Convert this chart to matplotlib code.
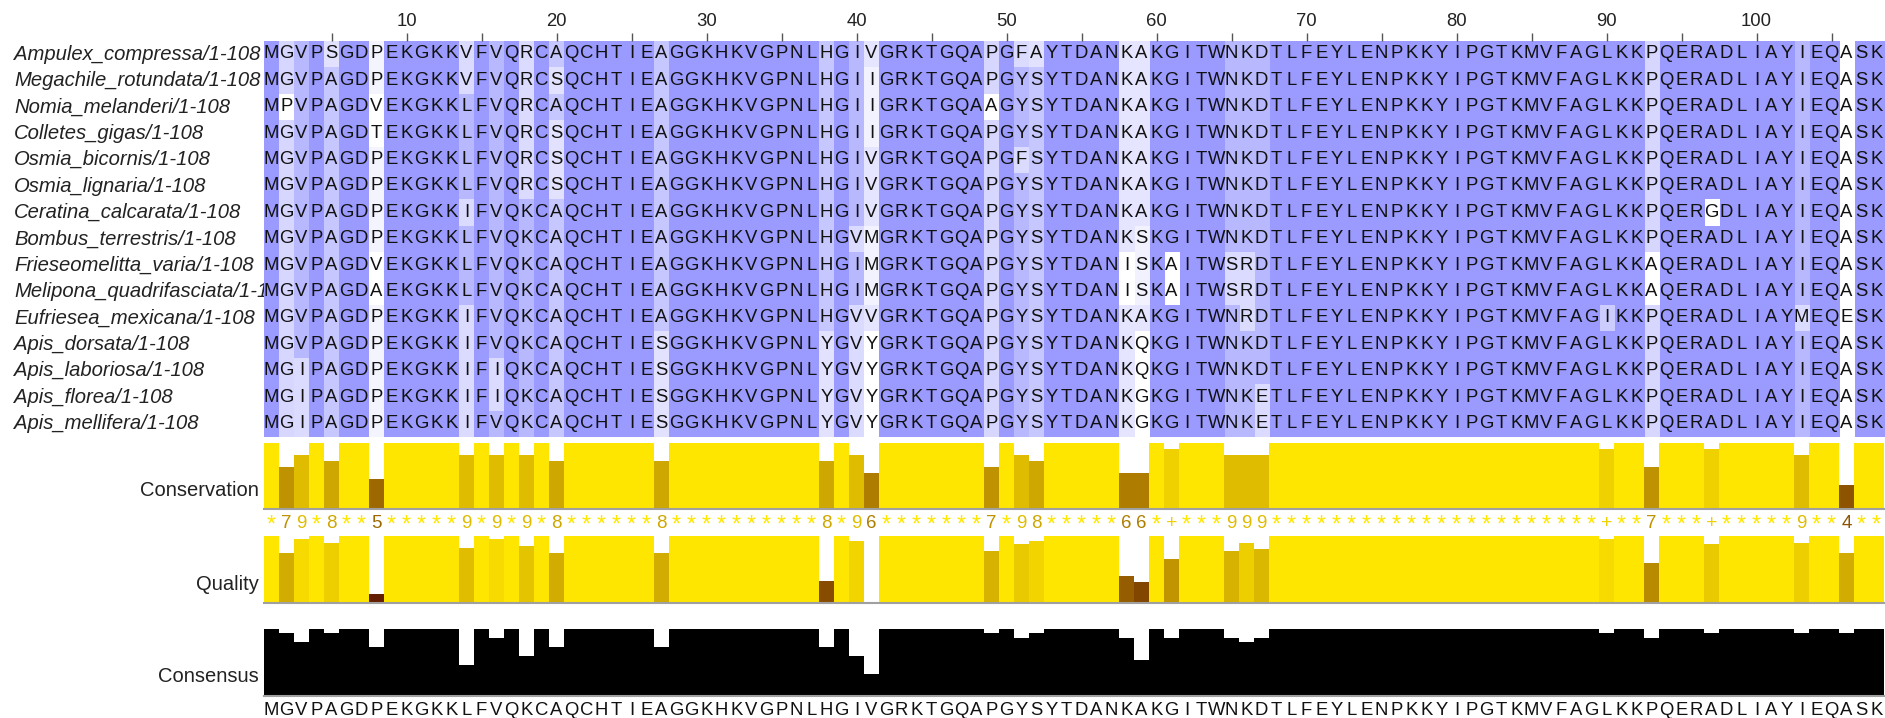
import matplotlib
matplotlib.use("Agg")
import matplotlib.pyplot as plt
from matplotlib import transforms
from collections import Counter
import numpy as np

# ---------------- data ----------------
names = [
    "Ampulex_compressa/1-108", "Megachile_rotundata/1-108", "Nomia_melanderi/1-108",
    "Colletes_gigas/1-108", "Osmia_bicornis/1-108", "Osmia_lignaria/1-108",
    "Ceratina_calcarata/1-108", "Bombus_terrestris/1-108", "Frieseomelitta_varia/1-108",
    "Melipona_quadrifasciata/1-108", "Eufriesea_mexicana/1-108", "Apis_dorsata/1-108",
    "Apis_laboriosa/1-108", "Apis_florea/1-108", "Apis_mellifera/1-108",
]
sequences = [
    "MGVPSGDPEKGKKVFVQRCAQCHTIEAGGKHKVGPNLHGIVGRKTGQAPGFAYTDANKAKGITWNKDTLFEYLENPKKYIPGTKMVFAGLKKPQERADLIAYIEQASK",
    "MGVPAGDPEKGKKVFVQRCSQCHTIEAGGKHKVGPNLHGIIGRKTGQAPGYSYTDANKAKGITWNKDTLFEYLENPKKYIPGTKMVFAGLKKPQERADLIAYIEQASK",
    "MPVPAGDVEKGKKLFVQRCAQCHTIEAGGKHKVGPNLHGIIGRKTGQAAGYSYTDANKAKGITWNKDTLFEYLENPKKYIPGTKMVFAGLKKPQERADLIAYIEQASK",
    "MGVPAGDTEKGKKLFVQRCSQCHTIEAGGKHKVGPNLHGIIGRKTGQAPGYSYTDANKAKGITWNKDTLFEYLENPKKYIPGTKMVFAGLKKPQERADLIAYIEQASK",
    "MGVPAGDPEKGKKLFVQRCSQCHTIEAGGKHKVGPNLHGIVGRKTGQAPGFSYTDANKAKGITWNKDTLFEYLENPKKYIPGTKMVFAGLKKPQERADLIAYIEQASK",
    "MGVPAGDPEKGKKLFVQRCSQCHTIEAGGKHKVGPNLHGIVGRKTGQAPGYSYTDANKAKGITWNKDTLFEYLENPKKYIPGTKMVFAGLKKPQERADLIAYIEQASK",
    "MGVPAGDPEKGKKIFVQKCAQCHTIEAGGKHKVGPNLHGIVGRKTGQAPGYSYTDANKAKGITWNKDTLFEYLENPKKYIPGTKMVFAGLKKPQERGDLIAYIEQASK",
    "MGVPAGDPEKGKKLFVQKCAQCHTIEAGGKHKVGPNLHGVMGRKTGQAPGYSYTDANKSKGITWNKDTLFEYLENPKKYIPGTKMVFAGLKKPQERADLIAYIEQASK",
    "MGVPAGDVEKGKKLFVQKCAQCHTIEAGGKHKVGPNLHGIMGRKTGQAPGYSYTDANISKAITWSRDTLFEYLENPKKYIPGTKMVFAGLKKAQERADLIAYIEQASK",
    "MGVPAGDAEKGKKLFVQKCAQCHTIEAGGKHKVGPNLHGIMGRKTGQAPGYSYTDANISKAITWSRDTLFEYLENPKKYIPGTKMVFAGLKKAQERADLIAYIEQASK",
    "MGVPAGDPEKGKKIFVQKCAQCHTIEAGGKHKVGPNLHGVVGRKTGQAPGYSYTDANKAKGITWNRDTLFEYLENPKKYIPGTKMVFAGIKKPQERADLIAYMEQESK",
    "MGVPAGDPEKGKKIFVQKCAQCHTIESGGKHKVGPNLYGVYGRKTGQAPGYSYTDANKQKGITWNKDTLFEYLENPKKYIPGTKMVFAGLKKPQERADLIAYIEQASK",
    "MGIPAGDPEKGKKIFIQKCAQCHTIESGGKHKVGPNLYGVYGRKTGQAPGYSYTDANKQKGITWNKDTLFEYLENPKKYIPGTKMVFAGLKKPQERADLIAYIEQASK",
    "MGIPAGDPEKGKKIFIQKCAQCHTIESGGKHKVGPNLYGVYGRKTGQAPGYSYTDANKGKGITWNKETLFEYLENPKKYIPGTKMVFAGLKKPQERADLIAYIEQASK",
    "MGIPAGDPEKGKKIFVQKCAQCHTIESGGKHKVGPNLYGVYGRKTGQAPGYSYTDANKGKGITWNKETLFEYLENPKKYIPGTKMVFAGLKKPQERADLIAYIEQASK",
]
# conservation symbols per column ('*' = 11, '+' = 10, digits as read)
conservation_symbols = list(
    "*79*8**5*****" + "9*9*9*8" + "******" + "8" + "**********" + "8*96" + "*******"
    + "7*98" + "*****" + "66*+" + "***" + "999" + "*" * 22 + "+" + "**" + "7" + "***"
    + "+" + "*****" + "9" + "**" + "4" + "**"
)
# alignment quality per column (fraction of full height)
quality = [
    1.00, 0.75, 0.95, 1.00, 0.90, 1.00, 1.00, 0.13, 1.00, 1.00, 1.00, 1.00,
    1.00, 0.825, 1.00, 0.95, 1.00, 0.85, 1.00, 0.75, 1.00, 1.00, 1.00, 1.00,
    1.00, 1.00, 0.75, 1.00, 1.00, 1.00, 1.00, 1.00, 1.00, 1.00, 1.00, 1.00,
    1.00, 0.33, 1.00, 0.925, 0.00, 1.00, 1.00, 1.00, 1.00, 1.00, 1.00, 1.00,
    0.775, 1.00, 0.875, 0.925, 1.00, 1.00, 1.00, 1.00, 1.00, 0.405, 0.305, 1.00,
    0.65, 1.00, 1.00, 1.00, 0.775, 0.90, 0.80, 1.00, 1.00, 1.00, 1.00, 1.00,
    1.00, 1.00, 1.00, 1.00, 1.00, 1.00, 1.00, 1.00, 1.00, 1.00, 1.00, 1.00,
    1.00, 1.00, 1.00, 1.00, 1.00, 0.95, 1.00, 1.00, 0.60, 1.00, 1.00, 1.00,
    0.875, 1.00, 1.00, 1.00, 1.00, 1.00, 0.90, 1.00, 1.00, 0.75, 1.00, 1.00,
]
# BLOSUM62 residue pairs with a positive score that occur in this alignment
blosum_positive = {frozenset(p) for p in ["IV", "AS", "LV", "IL", "KR", "HY", "FY", "MV", "NS", "DE", "IM"]}

ncol = len(sequences[0])
nrow = len(sequences)
assert len(conservation_symbols) == ncol and len(quality) == ncol

# ---------------- derived ----------------
columns = list(zip(*sequences))
consensus = []
consensus_pct = []
for col in columns:
    res, cnt = Counter(col).most_common(1)[0]
    consensus.append(res)
    consensus_pct.append(100.0 * cnt / nrow)

def cons_value(s):
    return 11 if s == "*" else (10 if s == "+" else int(s))

cons_vals = [cons_value(s) for s in conservation_symbols]

def jal_colour(v):
    v = max(0.0, min(1.0, v))
    return (0.3 + 0.7 * v, 0.9 * v, 0.0)

DARK = np.array([154, 154, 255]) / 255.0
LIGHT = np.array([204, 204, 255]) / 255.0
WHITE = np.array([1.0, 1.0, 1.0])

rgb = np.ones((nrow, ncol, 3))
for j in range(ncol):
    s = conservation_symbols[j]
    bleach = 0.0 if s in "*+" else min(1.0, (11 - int(s)) / 10.0 * 1.5)
    for i in range(nrow):
        r = sequences[i][j]
        if r == consensus[j]:
            base = DARK
        elif frozenset(r + consensus[j]) in blosum_positive:
            base = LIGHT
        else:
            base = WHITE
        rgb[i, j] = base + (1.0 - base) * bleach

# ---------------- figure ----------------
W, H = 1885, 718
fig = plt.figure(figsize=(W / 100, H / 100), dpi=100)
FONT = "Liberation Sans"

def add_ax(left, top, width, height):
    return fig.add_axes([left / W, 1 - (top + height) / H, width / W, height / H])

X0, XW = 264, 1620
ROW_TOP, ROW_H = 40.8, 26.4

# alignment
ax = add_ax(X0, ROW_TOP, XW, ROW_H * nrow)
ax.imshow(rgb, extent=(0.5, ncol + 0.5, nrow + 0.5, 0.5), aspect="auto", interpolation="nearest")
ax.set_xlim(0.5, ncol + 0.5)
ax.set_ylim(nrow + 0.5, 0.5)
for i in range(nrow):
    for j in range(ncol):
        ax.text(j + 1, i + 1, sequences[i][j], ha="center", va="center",
                fontsize=13.3, family=FONT, color="#111111")
for sp in ax.spines.values():
    sp.set_visible(False)
ax.set_yticks([])
ax.set_xticks(range(10, ncol + 1, 10))
ax.set_xticks(range(5, ncol + 1, 10), minor=True)
ax.xaxis.set_ticks_position("top")
ax.tick_params(axis="x", which="both", top=True, bottom=False, labeltop=True,
               labelbottom=False, length=6, width=1, color="#555555", pad=2,
               labelsize=13.3, labelcolor="#222222")
for lab in ax.get_xticklabels():
    lab.set_family(FONT)

# names panel (clipped)
axn = add_ax(0, ROW_TOP, X0, ROW_H * nrow)
axn.set_xlim(0, X0)
axn.set_ylim(nrow + 0.5, 0.5)
axn.axis("off")
for i, nm in enumerate(names):
    t = axn.text(14, i + 1, nm, ha="left", va="center", fontsize=14.6, style="italic",
                 family=FONT, color="#222222")
    t.set_clip_on(True)

xs = np.arange(1, ncol + 1)

def style_annot(a, ymax):
    a.set_xlim(0.5, ncol + 0.5)
    a.set_ylim(0, ymax)
    for sp in a.spines.values():
        sp.set_visible(False)
    a.set_xticks([])
    a.set_yticks([])
    a.axhline(0, color="#a0a0a0", lw=1.5, clip_on=False)

# conservation
axc = add_ax(X0, 442.7, XW, 66.6)
axc.bar(xs, cons_vals, width=1.0, color=[jal_colour(v / 11) for v in cons_vals], linewidth=0)
style_annot(axc, 11)
trans = transforms.blended_transform_factory(axc.transData, axc.transAxes)
for j, s in enumerate(conservation_symbols):
    if s == "*":
        y, fs = -0.25, 17
    elif s == "+":
        y, fs = -0.22, 14
    else:
        y, fs = -0.21, 13.5
    axc.text(j + 1, y, s, transform=trans, ha="center", va="center",
             fontsize=fs, family=FONT,
             color=jal_colour(cons_vals[j] / 11), clip_on=False)

# quality
axq = add_ax(X0, 536, XW, 66.7)
axq.bar(xs, quality, width=1.0, color=[jal_colour(v) for v in quality], linewidth=0)
style_annot(axq, 1.0)

# consensus
axk = add_ax(X0, 629, XW, 67)
axk.bar(xs, consensus_pct, width=1.0, color="black", linewidth=0)
style_annot(axk, 100)
transk = transforms.blended_transform_factory(axk.transData, axk.transAxes)
for j, r in enumerate(consensus):
    axk.text(j + 1, -0.21, r, transform=transk, ha="center", va="center",
             fontsize=13.3, family=FONT, color="#111111", clip_on=False)

# annotation labels
for label, yc in [("Conservation", 490.7), ("Quality", 584), ("Consensus", 676.7)]:
    fig.text(259 / W, 1 - yc / H, label, ha="right", va="center", fontsize=14.5,
             family=FONT, color="#222222")

fig.savefig("out.png", dpi=100)
